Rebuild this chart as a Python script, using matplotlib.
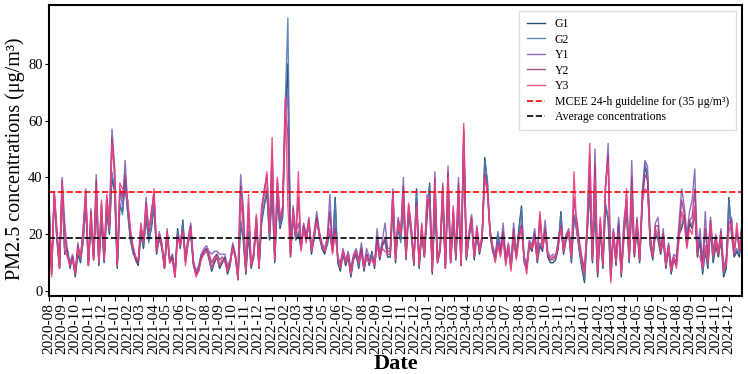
import numpy as np
import pandas as pd
import matplotlib
matplotlib.use("Agg")
import matplotlib.pyplot as plt
import matplotlib.dates as mdates

plt.rcParams['font.family'] = ['Liberation Serif', 'DejaVu Serif']

# values, 5 samples per month (2020-08 .. 2024-12)
G1 = [30, 7, 34, 18, 8,
      36, 13, 15, 8, 12,
      5, 13, 10, 18, 30,
      9, 24, 11, 30, 9,
      25, 10, 28, 20, 40,
      35, 8, 30, 28, 38,
      28, 18, 14, 11, 9,
      20, 15, 26, 18, 22,
      30, 13, 19, 15, 8,
      20, 10, 12, 6, 22,
      15, 25, 10, 17, 20,
      9, 6, 7, 12, 14,
      15, 11, 7, 10, 12,
      8, 10, 12, 6, 9,
      16, 12, 4, 24, 18,
      6, 20, 8, 12, 24,
      8, 24, 30, 35, 18,
      35, 10, 32, 22, 26,
      62, 80, 12, 26, 18,
      20, 15, 22, 18, 24,
      13, 19, 26, 19, 15,
      13, 17, 20, 14, 33,
      10, 7, 13, 9, 12,
      5, 11, 13, 8, 15,
      7, 13, 9, 14, 8,
      18, 11, 16, 18, 12,
      12, 30, 10, 22, 18,
      30, 11, 28, 20, 9,
      36, 8, 20, 12, 26,
      38, 6, 30, 10, 14,
      32, 8, 36, 10, 24,
      11, 30, 9, 50, 11,
      19, 24, 11, 20, 13,
      18, 47, 38, 20, 14,
      11, 20, 14, 21, 10,
      15, 8, 18, 12, 22,
      30, 10, 8, 16, 14,
      20, 10, 16, 14, 22,
      12, 10, 10, 11, 15,
      28, 13, 18, 21, 10,
      26, 22, 14, 8, 3,
      20, 36, 10, 30, 5,
      22, 8, 30, 25, 4,
      20, 9, 24, 5, 20,
      28, 10, 30, 12, 22,
      10, 30, 44, 40, 16,
      11, 20, 18, 13, 18,
      8, 15, 6, 11, 9,
      20, 22, 26, 16, 24,
      22, 28, 12, 18, 6,
      14, 8, 22, 10, 16,
      12, 18, 5, 8, 33,
      20, 12, 14, 12, 22]

G2 = [29, 8, 33, 19, 9,
      35, 14, 14, 9, 11,
      6, 14, 11, 17, 31,
      10, 25, 12, 31, 10,
      26, 11, 29, 21, 42,
      36, 9, 31, 27, 39,
      27, 19, 13, 12, 10,
      21, 16, 27, 17, 23,
      31, 14, 18, 16, 9,
      21, 11, 13, 7, 21,
      16, 24, 11, 18, 21,
      10, 7, 8, 13, 13,
      14, 12, 8, 11, 13,
      9, 11, 11, 7, 10,
      15, 13, 5, 25, 19,
      7, 21, 9, 13, 23,
      9, 25, 31, 36, 19,
      36, 11, 33, 23, 27,
      66, 96, 13, 27, 18,
      21, 16, 23, 19, 23,
      14, 18, 25, 20, 16,
      14, 16, 21, 15, 32,
      11, 8, 14, 10, 13,
      6, 12, 12, 9, 14,
      8, 12, 10, 13, 9,
      17, 12, 17, 17, 13,
      13, 31, 11, 23, 17,
      31, 12, 27, 21, 10,
      35, 9, 21, 13, 27,
      37, 7, 31, 11, 15,
      33, 9, 35, 11, 25,
      12, 31, 10, 52, 12,
      20, 23, 12, 21, 14,
      19, 46, 39, 21, 15,
      12, 21, 15, 20, 11,
      16, 9, 19, 13, 21,
      29, 11, 9, 17, 15,
      21, 11, 17, 15, 21,
      13, 11, 11, 12, 16,
      27, 14, 19, 20, 11,
      27, 21, 15, 9, 4,
      21, 37, 11, 31, 6,
      23, 9, 31, 26, 5,
      21, 10, 25, 6, 21,
      29, 11, 31, 13, 23,
      11, 31, 45, 41, 17,
      12, 21, 19, 14, 19,
      9, 16, 7, 12, 10,
      21, 23, 27, 17, 25,
      23, 29, 13, 19, 7,
      15, 9, 23, 11, 17,
      13, 19, 6, 9, 32,
      21, 13, 15, 13, 23]

Y1 = [31, 6, 35, 20, 9,
      40, 24, 14, 10, 13,
      7, 17, 11, 22, 36,
      10, 29, 12, 41, 12,
      30, 12, 33, 24, 57,
      44, 10, 35, 30, 46,
      30, 20, 15, 12, 10,
      22, 18, 33, 20, 28,
      34, 15, 21, 17, 9,
      22, 11, 13, 5, 20,
      17, 22, 12, 19, 24,
      11, 7, 9, 13, 15,
      16, 14, 13, 14, 14,
      13, 13, 13, 9, 11,
      17, 13, 6, 41, 30,
      7, 28, 9, 14, 26,
      9, 28, 36, 40, 22,
      45, 12, 38, 24, 28,
      60, 70, 14, 30, 20,
      24, 16, 24, 20, 26,
      15, 21, 28, 21, 17,
      15, 19, 34, 15, 24,
      12, 10, 15, 11, 14,
      8, 13, 15, 11, 17,
      9, 15, 12, 13, 10,
      22, 13, 18, 24, 15,
      15, 36, 13, 26, 21,
      40, 13, 30, 23, 11,
      32, 10, 22, 13, 30,
      34, 8, 42, 11, 16,
      38, 9, 44, 11, 28,
      13, 40, 10, 56, 13,
      21, 27, 13, 23, 15,
      20, 42, 36, 22, 16,
      13, 18, 15, 24, 12,
      17, 10, 24, 13, 20,
      24, 12, 10, 18, 16,
      22, 12, 26, 16, 25,
      14, 12, 13, 12, 18,
      24, 15, 20, 22, 13,
      24, 26, 18, 12, 8,
      22, 44, 12, 50, 7,
      24, 10, 36, 52, 8,
      22, 11, 26, 8, 25,
      32, 12, 46, 14, 26,
      12, 35, 46, 44, 20,
      13, 24, 26, 15, 22,
      10, 17, 9, 13, 12,
      24, 36, 30, 20, 28,
      32, 43, 15, 22, 10,
      28, 12, 26, 14, 20,
      14, 22, 8, 12, 26,
      26, 14, 20, 15, 24]

Y2 = [31, 6, 34, 21, 8,
      39, 19, 13, 9, 12,
      6, 16, 12, 21, 35,
      9, 28, 11, 39, 11,
      31, 11, 33, 23, 54,
      42, 9, 36, 33, 41,
      31, 21, 15, 12, 10,
      23, 17, 31, 21, 27,
      35, 14, 20, 16, 8,
      21, 10, 12, 5, 20,
      16, 21, 11, 18, 23,
      10, 6, 8, 12, 14,
      15, 13, 10, 12, 13,
      11, 12, 11, 8, 10,
      16, 12, 5, 37, 26,
      7, 31, 9, 13, 26,
      8, 29, 35, 41, 21,
      50, 11, 39, 25, 29,
      64, 55, 13, 29, 19,
      33, 15, 23, 18, 25,
      14, 20, 26, 20, 16,
      14, 18, 28, 14, 22,
      12, 9, 14, 10, 13,
      7, 12, 14, 10, 15,
      8, 13, 11, 12, 9,
      19, 12, 16, 19, 14,
      14, 35, 12, 25, 20,
      37, 12, 30, 22, 10,
      31, 9, 23, 12, 32,
      32, 7, 40, 10, 15,
      37, 8, 42, 10, 29,
      12, 38, 9, 57, 12,
      20, 26, 12, 22, 14,
      19, 41, 35, 21, 15,
      11, 17, 13, 21, 10,
      16, 8, 22, 12, 19,
      23, 11, 8, 17, 15,
      20, 11, 27, 15, 22,
      13, 11, 12, 12, 17,
      23, 14, 19, 21, 12,
      33, 24, 17, 11, 7,
      23, 48, 11, 45, 6,
      25, 9, 37, 48, 5,
      21, 10, 23, 7, 21,
      34, 11, 40, 13, 25,
      11, 33, 41, 39, 19,
      12, 23, 23, 14, 20,
      9, 16, 8, 12, 10,
      21, 32, 27, 17, 25,
      26, 36, 14, 17, 9,
      22, 11, 25, 13, 19,
      13, 21, 7, 11, 24,
      25, 13, 22, 14, 23]

Y3 = [32, 5, 35, 22, 8,
      38, 14, 12, 9, 11,
      6, 15, 12, 20, 35,
      9, 27, 11, 36, 10,
      32, 11, 34, 22, 52,
      40, 9, 38, 36, 35,
      32, 22, 16, 12, 11,
      24, 17, 30, 22, 26,
      36, 14, 20, 16, 8,
      21, 10, 11, 5, 19,
      16, 21, 9, 18, 22,
      10, 5, 7, 11, 13,
      14, 12, 8, 11, 12,
      9, 11, 10, 7, 10,
      15, 12, 4, 33, 22,
      7, 34, 9, 13, 27,
      8, 30, 34, 42, 20,
      54, 11, 40, 26, 30,
      68, 30, 12, 28, 19,
      42, 14, 22, 17, 25,
      14, 20, 24, 20, 16,
      14, 18, 22, 13, 20,
      12, 8, 14, 10, 13,
      6, 12, 14, 10, 13,
      8, 12, 10, 11, 9,
      16, 12, 15, 14, 13,
      13, 34, 11, 24, 20,
      34, 12, 31, 22, 10,
      30, 9, 24, 12, 34,
      30, 7, 38, 10, 15,
      36, 8, 40, 10, 30,
      12, 36, 9, 59, 12,
      20, 25, 12, 22, 14,
      19, 40, 35, 21, 15,
      10, 16, 12, 18, 9,
      16, 7, 20, 11, 18,
      22, 11, 6, 17, 15,
      18, 11, 28, 15, 20,
      13, 11, 12, 12, 16,
      22, 14, 19, 21, 12,
      42, 22, 16, 10, 6,
      24, 52, 11, 40, 6,
      26, 9, 38, 45, 3,
      21, 10, 20, 6, 18,
      36, 11, 34, 13, 24,
      11, 32, 36, 35, 18,
      12, 22, 20, 14, 19,
      9, 16, 7, 12, 8,
      18, 28, 24, 15, 22,
      20, 30, 13, 12, 8,
      16, 10, 24, 12, 18,
      13, 20, 7, 10, 21,
      24, 13, 24, 14, 22]

series_names = ['G1', 'G2', 'Y1', 'Y2', 'Y3']
series_colors = ['#0d3b66', '#4f7cb3', '#8360b8', '#a3387f', '#f0407f']
guideline = 35
average = 18.7

dates = pd.date_range('2020-08-01', '2024-12-31', periods=len(G1))

fig = plt.figure(figsize=(7.48, 3.74), dpi=100)
ax = fig.add_axes([0.0655, 0.209, 0.9265, 0.7776])

for name, vals, col in zip(series_names, [G1, G2, Y1, Y2, Y3], series_colors):
    ax.plot(dates, vals, color=col, lw=1.0, alpha=0.9, label=name)

ax.axhline(guideline, color='red', ls='--', lw=1.2,
           label='MCEE 24-h guideline for (35 μg/m³)')
ax.axhline(average, color='black', ls='--', lw=1.2,
           label='Average concentrations')

ax.set_xlim(dates[0], dates[-1])
ax.xaxis.set_major_locator(mdates.MonthLocator())
ax.xaxis.set_major_formatter(mdates.DateFormatter('%Y-%m'))
ax.tick_params(axis='x', labelrotation=90, labelsize=11, pad=2)
ax.tick_params(axis='y', labelsize=10.5, length=3, pad=1.5)
ax.set_yticks([0, 20, 40, 60, 80])
for s in ax.spines.values():
    s.set_linewidth(1.5)

ax.set_xlabel('Date', fontsize=16, fontweight='bold')
ax.xaxis.set_label_coords(0.5, -0.2)
ax.set_ylabel('PM2.5 concentrations (μg/m³)', fontsize=14.5, labelpad=0)
ax.yaxis.set_label_coords(-0.035, 0.47)

leg = ax.legend(loc='upper right', fontsize=8.5, fancybox=False,
                framealpha=1, edgecolor='#dddddd', handlelength=1.6,
                labelspacing=0.3, borderpad=0.6)

fig.savefig('out.png', dpi=100)
